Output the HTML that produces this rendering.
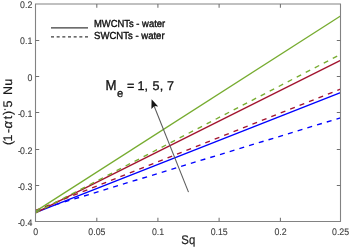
<!DOCTYPE html>
<html><head><meta charset="utf-8"><style>
html,body{margin:0;padding:0;background:#fff;width:350px;height:248px;overflow:hidden}
svg{display:block;filter:blur(0.3px)}
text{font-family:"Liberation Sans",sans-serif;text-rendering:geometricPrecision}
.tk{font-size:8.8px;fill:#404040;stroke:#404040;stroke-width:0.1px}
.al{font-size:11.4px;fill:#222;stroke:#222;stroke-width:0.2px}
.yl{font-size:12.5px;fill:#1a1a1a;stroke:#1a1a1a;stroke-width:0.2px}
.lg{font-size:9.3px;fill:#111;stroke:#111;stroke-width:0.35px}
.an{fill:#111;stroke:#111;stroke-width:0.3px}
.t{filter:grayscale(1)}
</style></head><body>
<svg width="350" height="248" viewBox="0 0 350 248">
<rect x="0" y="0" width="350" height="248" fill="#fff"/>
<line x1="35.5" y1="210.8" x2="340.5" y2="117.8" stroke="#0000FF" stroke-width="1.35" stroke-dasharray="5 5.15"/>
<line x1="35.5" y1="212.7" x2="340.5" y2="92.7" stroke="#0000FF" stroke-width="1.35"/>
<line x1="35.5" y1="210.4" x2="340.5" y2="89.1" stroke="#A2142F" stroke-width="1.35" stroke-dasharray="5 5.15"/>
<line x1="35.5" y1="212.9" x2="340.5" y2="60.3" stroke="#A2142F" stroke-width="1.35"/>
<line x1="35.5" y1="212.8" x2="340.5" y2="54.4" stroke="#77AC30" stroke-width="1.35" stroke-dasharray="5 5.15"/>
<line x1="35.5" y1="211.4" x2="340.5" y2="16.0" stroke="#77AC30" stroke-width="1.35"/>
<path d="M35.5 4.0H340.5V221.5H35.5Z" fill="none" stroke="#828282" stroke-width="1.1"/>
<line x1="35.5" y1="40.50" x2="39.2" y2="40.50" stroke="#707070" stroke-width="1.05"/>
<line x1="340.5" y1="40.50" x2="336.8" y2="40.50" stroke="#707070" stroke-width="1.05"/>
<line x1="35.5" y1="76.50" x2="39.2" y2="76.50" stroke="#707070" stroke-width="1.05"/>
<line x1="340.5" y1="76.50" x2="336.8" y2="76.50" stroke="#707070" stroke-width="1.05"/>
<line x1="35.5" y1="112.50" x2="39.2" y2="112.50" stroke="#707070" stroke-width="1.05"/>
<line x1="340.5" y1="112.50" x2="336.8" y2="112.50" stroke="#707070" stroke-width="1.05"/>
<line x1="35.5" y1="149.50" x2="39.2" y2="149.50" stroke="#707070" stroke-width="1.05"/>
<line x1="340.5" y1="149.50" x2="336.8" y2="149.50" stroke="#707070" stroke-width="1.05"/>
<line x1="35.5" y1="185.50" x2="39.2" y2="185.50" stroke="#707070" stroke-width="1.05"/>
<line x1="340.5" y1="185.50" x2="336.8" y2="185.50" stroke="#707070" stroke-width="1.05"/>
<line x1="96.80" y1="221.5" x2="96.80" y2="217.8" stroke="#707070" stroke-width="1.05"/>
<line x1="96.80" y1="4.0" x2="96.80" y2="7.7" stroke="#707070" stroke-width="1.05"/>
<line x1="157.90" y1="221.5" x2="157.90" y2="217.8" stroke="#707070" stroke-width="1.05"/>
<line x1="157.90" y1="4.0" x2="157.90" y2="7.7" stroke="#707070" stroke-width="1.05"/>
<line x1="219.10" y1="221.5" x2="219.10" y2="217.8" stroke="#707070" stroke-width="1.05"/>
<line x1="219.10" y1="4.0" x2="219.10" y2="7.7" stroke="#707070" stroke-width="1.05"/>
<line x1="280.40" y1="221.5" x2="280.40" y2="217.8" stroke="#707070" stroke-width="1.05"/>
<line x1="280.40" y1="4.0" x2="280.40" y2="7.7" stroke="#707070" stroke-width="1.05"/>
<line x1="51" y1="27.8" x2="88" y2="27.8" stroke="#3c3c3c" stroke-width="1.35"/>
<line x1="51" y1="36.9" x2="88" y2="36.9" stroke="#3c3c3c" stroke-width="1.3" stroke-dasharray="3.0 2.667"/>
<line x1="188.5" y1="192.1" x2="153.4" y2="104.3" stroke="#5a5a5a" stroke-width="1.05"/>
<path d="M151.6 99.3 L151.4 108.9 L154.4 106.1 L158.2 106.6 Z" fill="#141414"/>
<g class="t">
<text transform="translate(32.3 7.90) scale(1 1.08)" text-anchor="end" class="tk">0.2</text>
<text transform="translate(32.3 44.40) scale(1 1.08)" text-anchor="end" class="tk">0.1</text>
<text transform="translate(32.3 81.00) scale(1 1.08)" text-anchor="end" class="tk">0</text>
<text transform="translate(32.3 117.00) scale(1 1.08)" text-anchor="end" class="tk">-<tspan dx="-0.9">0.1</tspan></text>
<text transform="translate(32.3 154.00) scale(1 1.08)" text-anchor="end" class="tk">-<tspan dx="-0.9">0.2</tspan></text>
<text transform="translate(32.3 190.00) scale(1 1.08)" text-anchor="end" class="tk">-<tspan dx="-0.9">0.3</tspan></text>
<text transform="translate(32.3 226.00) scale(1 1.08)" text-anchor="end" class="tk">-<tspan dx="-0.9">0.4</tspan></text>
<text transform="translate(35.60 234.8) scale(1 1.08)" text-anchor="middle" class="tk">0</text>
<text transform="translate(96.90 234.8) scale(1 1.08)" text-anchor="middle" class="tk">0.05</text>
<text transform="translate(158.00 234.8) scale(1 1.08)" text-anchor="middle" class="tk">0.1</text>
<text transform="translate(219.20 234.8) scale(1 1.08)" text-anchor="middle" class="tk">0.15</text>
<text transform="translate(280.50 234.8) scale(1 1.08)" text-anchor="middle" class="tk">0.2</text>
<text transform="translate(340.60 234.8) scale(1 1.08)" text-anchor="middle" class="tk">0.25</text>
<text transform="translate(188.3 244.0) scale(1 1.1)" text-anchor="middle" class="al">Sq</text>
<text transform="translate(11.6 143.00) rotate(-90)" text-anchor="middle" class="yl">(</text>
<text transform="translate(11.6 138.10) rotate(-90)" text-anchor="middle" class="yl">1</text>
<text transform="translate(11.6 131.00) rotate(-90)" text-anchor="middle" class="yl">-</text>
<text transform="translate(11.6 124.90) rotate(-90)" text-anchor="middle" class="yl" style="font-style:italic;font-size:13px">&#945;</text>
<text transform="translate(11.6 117.60) rotate(-90)" text-anchor="middle" class="yl">t</text>
<text transform="translate(11.6 113.00) rotate(-90)" text-anchor="middle" class="yl">)</text>
<text transform="translate(11.6 104.00) rotate(-90)" text-anchor="middle" class="yl">5</text>
<text transform="translate(11.6 90.60) rotate(-90)" text-anchor="middle" class="yl">N</text>
<text transform="translate(11.6 82.40) rotate(-90)" text-anchor="middle" class="yl">u</text>
<circle cx="5" cy="109.5" r="0.75" fill="#262626"/>
<text transform="translate(93.9 26.8) scale(1 1.1)" class="lg" textLength="71.3" lengthAdjust="spacingAndGlyphs">MWCNTs - water</text>
<text transform="translate(94.1 39.0) scale(1 1.1)" class="lg" textLength="70.5" lengthAdjust="spacingAndGlyphs">SWCNTs - water</text>
<text transform="translate(111.1 89.9) scale(1 1.07)" text-anchor="middle" class="an" font-size="13.2">M</text>
<text transform="translate(130.7 89.8) scale(1 1.0)" text-anchor="middle" class="an" font-size="12.6">=</text>
<text transform="translate(141.1 89.8) scale(1 1.0)" text-anchor="middle" class="an" font-size="12.6">1</text>
<text transform="translate(146.3 89.8) scale(1 1.0)" text-anchor="middle" class="an" font-size="12.6">,</text>
<text transform="translate(156.0 89.8) scale(1 1.0)" text-anchor="middle" class="an" font-size="12.6">5</text>
<text transform="translate(161.6 89.8) scale(1 1.0)" text-anchor="middle" class="an" font-size="12.6">,</text>
<text transform="translate(170.4 89.8) scale(1 1.0)" text-anchor="middle" class="an" font-size="12.6">7</text>
<text transform="translate(120.1 96.8) scale(1 1.0)" text-anchor="middle" class="an" font-size="11.2">e</text>
</g>
</svg>
</body></html>
